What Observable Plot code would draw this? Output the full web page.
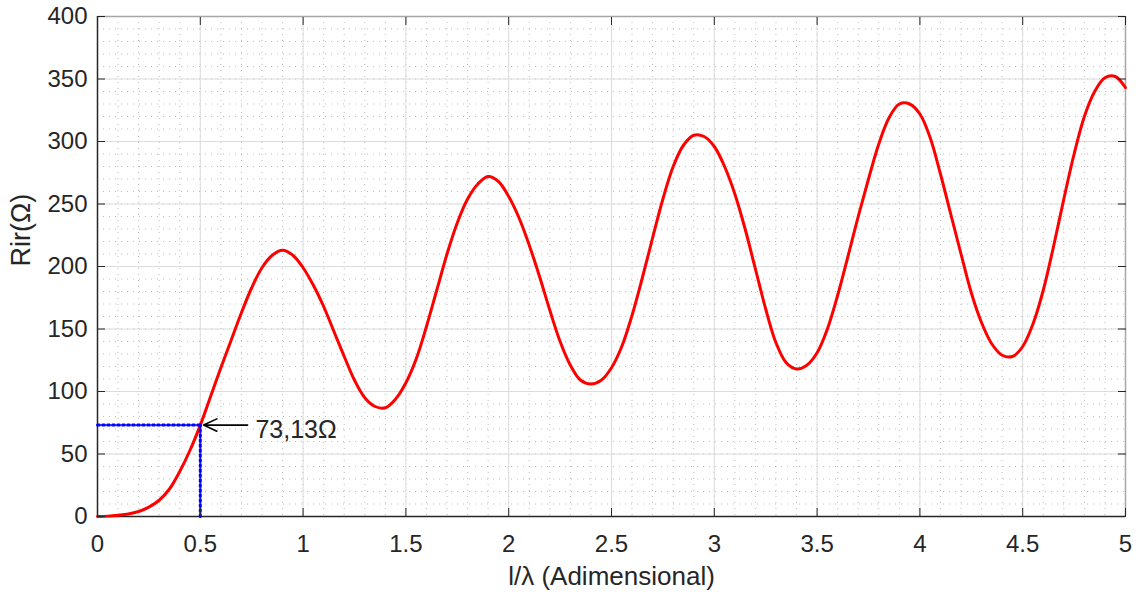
<!DOCTYPE html>
<html><head><meta charset="utf-8">
<script src="https://cdn.jsdelivr.net/npm/d3@7"></script>
<script src="https://cdn.jsdelivr.net/npm/@observablehq/plot@0.6"></script>
<style>body{margin:0;background:#fff;} svg{display:block;}</style>
</head><body><div id="chart"></div>
<script>
// l/λ values (dimensionless) and radiation resistance (Ω)
const lengths = [0, 0.05, 0.1, 0.15, 0.2, 0.25, 0.3, 0.35, 0.4, 0.45,
  0.5, 0.55, 0.6, 0.65, 0.7, 0.75, 0.8, 0.85, 0.9, 0.95,
  1, 1.05, 1.1, 1.15, 1.2, 1.25, 1.3, 1.35, 1.4, 1.45,
  1.5, 1.55, 1.6, 1.65, 1.7, 1.75, 1.8, 1.85, 1.9, 1.95,
  2, 2.05, 2.1, 2.15, 2.2, 2.25, 2.3, 2.35, 2.4, 2.45,
  2.5, 2.55, 2.6, 2.65, 2.7, 2.75, 2.8, 2.85, 2.9, 2.95,
  3, 3.05, 3.1, 3.15, 3.2, 3.25, 3.3, 3.35, 3.4, 3.45,
  3.5, 3.55, 3.6, 3.65, 3.7, 3.75, 3.8, 3.85, 3.9, 3.95,
  4, 4.05, 4.1, 4.15, 4.2, 4.25, 4.3, 4.35, 4.4, 4.45,
  4.5, 4.55, 4.6, 4.65, 4.7, 4.75, 4.8, 4.85, 4.9, 4.95, 5];
const resistance = [0, 0.3, 1, 2, 4, 7.5, 13, 22, 36, 53,
  73.13, 96, 119, 141, 163, 183, 199, 209, 213, 209,
  199, 185, 168, 148, 128, 109, 95, 88, 87, 94,
  107, 126, 152, 181, 210, 235, 254, 266, 272, 268,
  256, 239, 217, 192, 165, 140, 121, 109, 106, 109,
  119, 136, 161, 191, 223, 254, 280, 297, 305, 304,
  296, 280, 258, 230, 198, 166, 139, 123, 118, 121,
  131, 150, 177, 208, 240, 270, 298, 319, 330, 330,
  322, 303, 274, 242, 210, 179, 155, 138, 129, 128,
  136, 154, 181, 216, 254, 290, 320, 340, 351, 352, 343];

const xTicks = [0, 0.5, 1, 1.5, 2, 2.5, 3, 3.5, 4, 4.5, 5];
const xTickLabels = ["0", "0.5", "1", "1.5", "2", "2.5", "3", "3.5", "4", "4.5", "5"];
const yTicks = [0, 50, 100, 150, 200, 250, 300, 350, 400];
const xMinor = d3.range(0, 51).map(i => i / 10);
const yMinor = d3.range(0, 41).map(i => i * 10);

// annotation
const markL = 0.5, markR = 73.13;
const markLabel = "73,13Ω";
const arrowFrom = 0.73, arrowTo = 0.516, labelAt = 0.768;

const xLabel = "l/λ (Adimensional)";
const yLabel = "Rir(Ω)";

const data = lengths.map((l, i) => ({l, r: resistance[i]}));
const textColor = "#262626";

const plot = Plot.plot({
  width: 1136, height: 596,
  marginLeft: 97, marginRight: 11, marginTop: 16, marginBottom: 80,
  style: {fontFamily: "'Liberation Sans', Arial, sans-serif", color: textColor, background: "#fff", overflow: "visible"},
  x: {domain: [0, 5]},
  y: {domain: [0, 400]},
  marks: [
    Plot.gridX(xMinor, {stroke: "#a0a0a0", strokeOpacity: 0.7, strokeDasharray: "1,5"}),
    Plot.gridY(yMinor, {stroke: "#a0a0a0", strokeOpacity: 0.7, strokeDasharray: "1,5"}),
    Plot.gridX(xTicks, {stroke: "#dcdcdc", strokeOpacity: 1}),
    Plot.gridY(yTicks, {stroke: "#dcdcdc", strokeOpacity: 1}),
    Plot.ruleY([400], {stroke: "#a6a6a6", strokeWidth: 1.5}),
    Plot.ruleX([5], {stroke: "#a6a6a6", strokeWidth: 1.5}),
    Plot.ruleY([0], {stroke: textColor, strokeWidth: 1.5}),
    Plot.ruleX([0], {stroke: textColor, strokeWidth: 1.5}),
    Plot.line(data, {x: "l", y: "r", stroke: "#ff0000", strokeWidth: 3, curve: "catmull-rom"}),
    Plot.line([{l: 0, r: markR}, {l: markL, r: markR}], {x: "l", y: "r", stroke: "#0000ff", strokeWidth: 3, strokeDasharray: "2,3"}),
    Plot.line([{l: markL, r: 0}, {l: markL, r: markR}], {x: "l", y: "r", stroke: "#0000ff", strokeWidth: 3, strokeDasharray: "2,3"}),
    Plot.arrow([{x1: arrowFrom, x2: arrowTo, y: markR}], {x1: "x1", x2: "x2", y1: "y", y2: "y", stroke: "#000", strokeWidth: 1.6, headLength: 16, headAngle: 50}),
    Plot.text([{x: labelAt, y: markR, t: markLabel}], {x: "x", y: "y", text: "t", textAnchor: "start", fontSize: 25, fill: textColor, dy: 5}),
    Plot.axisX(xTicks, {anchor: "bottom", tickSize: -8, tickFormat: () => "", label: null, stroke: textColor}),
    Plot.axisX(xTicks, {anchor: "top", tickSize: -8, tickFormat: () => "", label: null, stroke: textColor}),
    Plot.axisY(yTicks, {anchor: "left", tickSize: -8, tickFormat: () => "", label: null, stroke: textColor}),
    Plot.axisY(yTicks, {anchor: "right", tickSize: -8, tickFormat: () => "", label: null, stroke: textColor}),
    Plot.axisX(xTicks, {anchor: "bottom", tickSize: 0, tickPadding: 18, fontSize: 24, tickFormat: (d, i) => xTickLabels[i], label: null, fill: textColor}),
    Plot.axisY(yTicks, {anchor: "left", tickSize: 0, tickPadding: 10, fontSize: 24, label: null, fill: textColor}),
    Plot.text([xLabel], {frameAnchor: "bottom", text: d => d, dy: 68, fontSize: 26, fill: textColor}),
    Plot.text([yLabel], {frameAnchor: "left", text: d => d, dx: -76, rotate: -90, fontSize: 27, fill: textColor})
  ]
});
document.getElementById("chart").appendChild(plot);
</script>
</body></html>
